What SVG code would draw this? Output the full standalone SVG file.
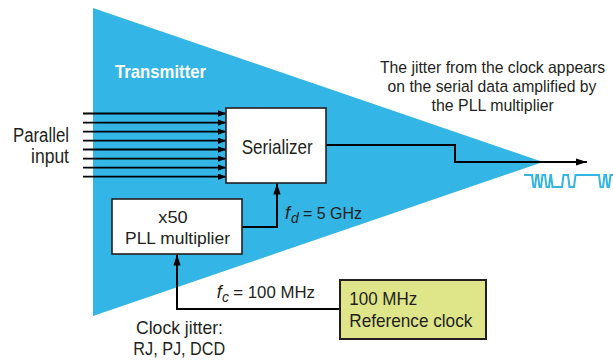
<svg xmlns="http://www.w3.org/2000/svg" width="613" height="362" viewBox="0 0 613 362">
<style>
  text { font-family: "Liberation Sans Narrow", "Liberation Sans", Arial, sans-serif; fill: #231f20; }
  .box { fill: #ffffff; stroke: #231f20; stroke-width: 1.6; }
  .ref { fill: #dfe589; stroke: #231f20; stroke-width: 2; }
  .wire { fill: none; stroke: #000000; stroke-width: 2; }
  .bus { fill: none; stroke: #000000; stroke-width: 1.8; }
  .it { font-style: italic; }
  .note { font-size: 16.5px; text-anchor: middle; }
</style>
<defs>
  <marker id="ahs" markerUnits="userSpaceOnUse" markerWidth="9" markerHeight="7" refX="8" refY="3.2" orient="auto">
    <path d="M0,0 L8,3.2 L0,6.4 z" fill="#000"/>
  </marker>
  <marker id="ahl" markerUnits="userSpaceOnUse" markerWidth="12" markerHeight="8" refX="11" refY="3.6" orient="auto">
    <path d="M0,0 L11,3.6 L0,7.2 z" fill="#000"/>
  </marker>
</defs>

<g id="transmitter">
  <polygon points="93,8 543,162 93,316" fill="#33b5e5"/>
  <text x="115" y="78" font-size="18.5" font-weight="bold" style="fill:#ffffff" textLength="91" lengthAdjust="spacingAndGlyphs">Transmitter</text>
</g>

<g id="parallel-input">
  <text x="69" y="142" font-size="19.5" text-anchor="end" textLength="56" lengthAdjust="spacingAndGlyphs">Parallel</text>
  <text x="69" y="162.5" font-size="19.5" text-anchor="end" textLength="38" lengthAdjust="spacingAndGlyphs">input</text>
</g>

<g id="connectors">
  <line class="bus" x1="83" y1="113.5" x2="226" y2="113.5" marker-end="url(#ahs)"/>
  <line class="bus" x1="83" y1="122.6" x2="226" y2="122.6" marker-end="url(#ahs)"/>
  <line class="bus" x1="83" y1="131.6" x2="226" y2="131.6" marker-end="url(#ahs)"/>
  <line class="bus" x1="83" y1="140.7" x2="226" y2="140.7" marker-end="url(#ahs)"/>
  <line class="bus" x1="83" y1="149.5" x2="226" y2="149.5" marker-end="url(#ahs)"/>
  <line class="bus" x1="83" y1="158.6" x2="226" y2="158.6" marker-end="url(#ahs)"/>
  <line class="bus" x1="83" y1="167.6" x2="226" y2="167.6" marker-end="url(#ahs)"/>
  <line class="bus" x1="83" y1="176.7" x2="226" y2="176.7" marker-end="url(#ahs)"/>
  <path class="wire" d="M326,145 H455 V162 H587" marker-end="url(#ahl)"/>
  <path class="wire" d="M242,227 H277 V183.5" marker-end="url(#ahl)"/>
  <path class="wire" d="M340,309 H177 V254.5" marker-end="url(#ahl)"/>
</g>

<g id="serializer">
  <rect class="box" x="226" y="108" width="100" height="75"/>
  <text x="241.7" y="154" font-size="21" textLength="71" lengthAdjust="spacingAndGlyphs">Serializer</text>
</g>

<g id="pll">
  <rect class="box" x="112" y="199" width="130" height="55"/>
  <text x="158.3" y="223.3" font-size="17" textLength="29.4" lengthAdjust="spacingAndGlyphs">x50</text>
  <text x="125" y="244" font-size="17" textLength="105" lengthAdjust="spacingAndGlyphs">PLL multiplier</text>
</g>

<g id="fd-label">
  <text x="285" y="219" font-size="18" class="it">f</text>
  <text x="291" y="223" font-size="14" class="it">d</text>
  <text x="303" y="219" font-size="17" textLength="59" lengthAdjust="spacingAndGlyphs">= 5 GHz</text>
</g>

<g id="fc-label">
  <text x="216.7" y="298.3" font-size="18" class="it">f</text>
  <text x="222" y="301.5" font-size="14" class="it">c</text>
  <text x="233.3" y="298.3" font-size="17" textLength="81.7" lengthAdjust="spacingAndGlyphs">= 100 MHz</text>
</g>

<g id="refclock">
  <rect class="ref" x="340" y="280" width="146" height="59"/>
  <text x="349.3" y="305" font-size="18.5" textLength="68" lengthAdjust="spacingAndGlyphs">100 MHz</text>
  <text x="349.3" y="326.7" font-size="18.5" textLength="123" lengthAdjust="spacingAndGlyphs">Reference clock</text>
</g>

<g id="clock-jitter">
  <text x="136" y="334" font-size="19" textLength="87" lengthAdjust="spacingAndGlyphs">Clock jitter:</text>
  <text x="133.3" y="355" font-size="19" textLength="92" lengthAdjust="spacingAndGlyphs">RJ, PJ, DCD</text>
</g>

<g id="annotation">
  <text class="note" transform="translate(492.5,72.7) scale(0.956,1)">The jitter from the clock appears</text>
  <text class="note" transform="translate(492,92) scale(0.953,1)">on the serial data amplified by</text>
  <text class="note" transform="translate(492.7,111.3) scale(0.965,1)">the PLL multiplier</text>
</g>

<g id="waveform">
  <path d="M524,175 H532 L533.5,187 H535 L536.5,175 H538 L539.5,187 H541 L542.5,175 H545 L546.5,187 H549 L550.5,175 H551 L552.5,187 H562 L563.5,175 H568 L569.5,187 H574 L575.5,175 H599 L600.5,187 H603 L604.5,175 H606 L607.5,187 H609 L610.5,175 H613" fill="none" stroke="#33b5e5" stroke-width="2"/>
</g>
</svg>
